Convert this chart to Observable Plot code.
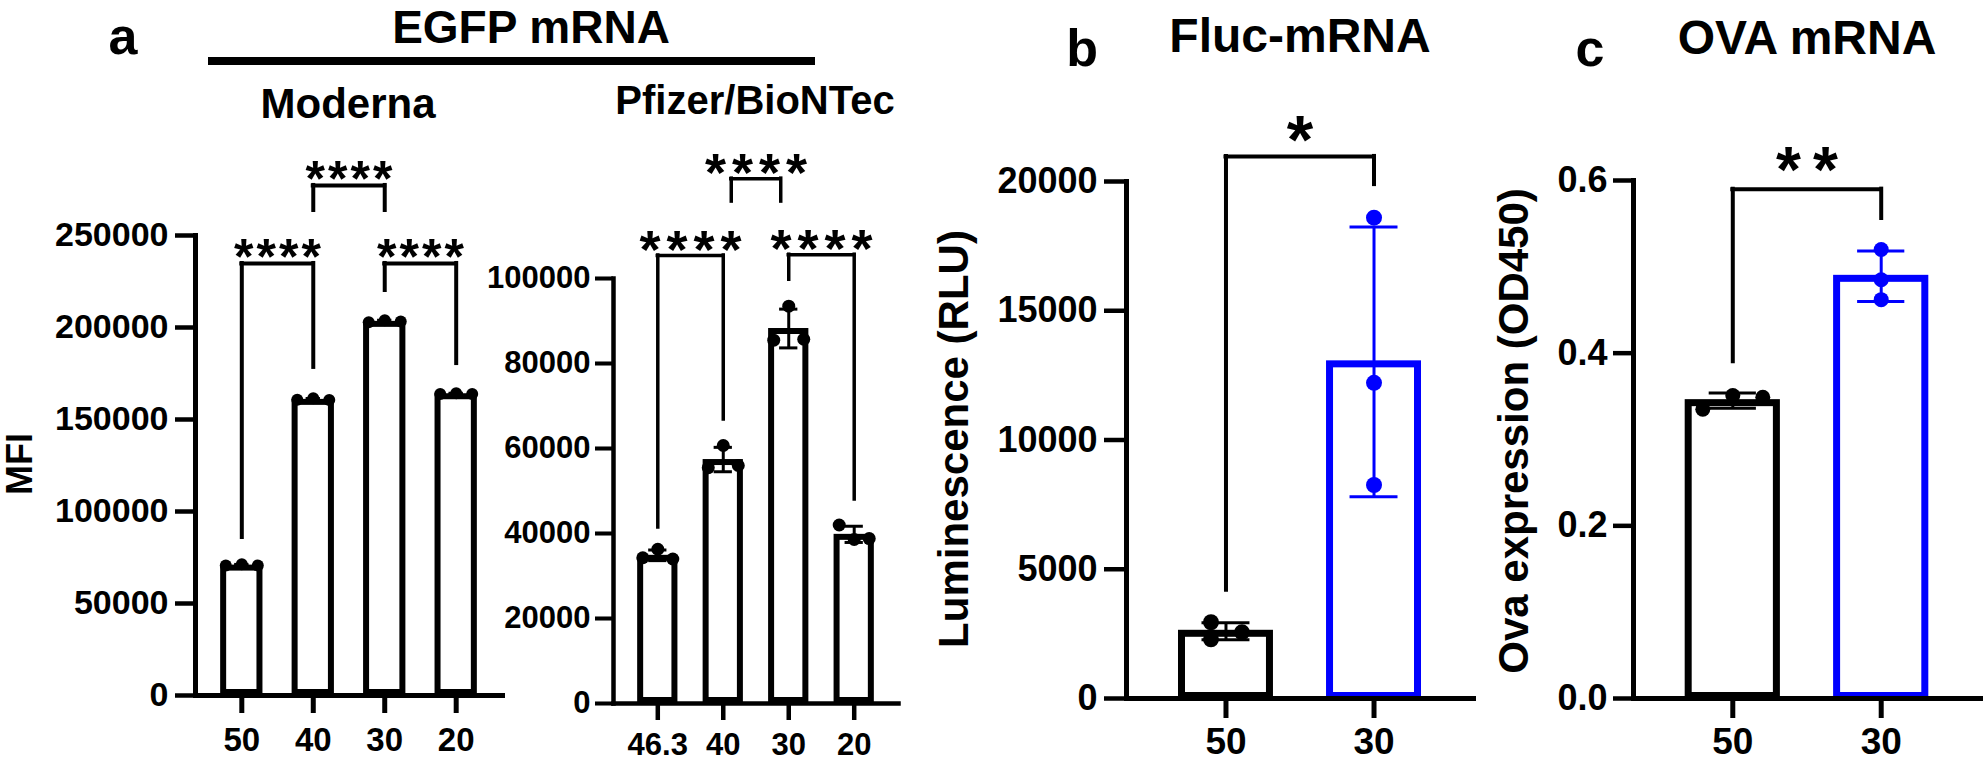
<!DOCTYPE html>
<html><head><meta charset="utf-8">
<script src="https://cdn.jsdelivr.net/npm/d3@7"></script>
<script src="https://cdn.jsdelivr.net/npm/@observablehq/plot@0.6"></script>
<style>
body{margin:0;background:#fff;}
#fig{position:relative;width:1985px;height:765px;overflow:hidden;background:#fff;}
#fig svg{position:absolute;left:0;top:0;}
.starsM text{letter-spacing:3px}
.starsP text{letter-spacing:6px}
.starsB text{letter-spacing:0px}
.starsC text{letter-spacing:12px}
</style></head><body><div id="fig"></div>
<script>
// ---------------- data ----------------
const modernaCats = ["50", "40", "30", "20"];
const modernaReps = [[70600, 71300, 70700], [160700, 161500, 160600], [202800, 204000, 203200], [163800, 164300, 163900]];
const modernaTicks = [0, 50000, 100000, 150000, 200000, 250000];
const modernaBrackets = [
  {from: "50", to: "40", top: 234800, yFrom: 85900, yTo: 178300, label: "****"},
  {from: "40", to: "30", top: 277200, yFrom: 263600, yTo: 263600, label: "****"},
  {from: "30", to: "20", top: 234800, yFrom: 220100, yTo: 180400, label: "****"}
];

const pfizerCats = ["46.3", "40", "30", "20"];
const pfizerReps = [[34300, 36300, 34000], [55500, 60700, 56000], [85500, 93500, 85700], [42000, 38600, 38800]];
const pfizerTicks = [0, 20000, 40000, 60000, 80000, 100000];
const pfizerBrackets = [
  {from: "46.3", to: "40", top: 105400, yFrom: 41400, yTo: 66800, label: "****"},
  {from: "40", to: "30", top: 123500, yFrom: 118100, yTo: 118100, label: "****"},
  {from: "30", to: "20", top: 105600, yFrom: 99700, yTo: 48000, label: "****"}
];

const flucCats = ["50", "30"];
const flucReps = [[2950, 2290, 2560], [18600, 12210, 8260]];
const flucTicks = [0, 5000, 10000, 15000, 20000];
const flucBrackets = [{from: "50", to: "30", top: 20970, yFrom: 4190, yTo: 19880, label: "*"}];

const ovaCats = ["50", "30"];
const ovaReps = [[0.335, 0.351, 0.349], [0.52, 0.485, 0.462]];
const ovaTicks = [0, 0.2, 0.4, 0.6];
const ovaBrackets = [{from: "50", to: "30", top: 0.59, yFrom: 0.39, yTo: 0.556, label: "**"}];

// ---------------- drawing ----------------
const W = 1985, H = 765;
const FONT = "'Liberation Sans', Arial, Helvetica, sans-serif";
const fig = document.getElementById("fig");
const BLACK = "#000000", BLUE = "#0000ff";

function panel(c) {
  const n = c.cats.length;
  const step = (c.right - c.left) / (n - c.pi + 2 * c.po);
  const bw = step * (1 - c.pi);
  const stats = c.cats.map((k, i) => ({cat: k, mean: d3.mean(c.reps[i]), sd: d3.deviation(c.reps[i])}));
  const pts = c.cats.flatMap((k, i) => c.reps[i].map((v, j) => ({cat: k, v, i, j})));
  const col = k => c.colors[c.cats.indexOf(k)];
  const marks = [
    Plot.barY(stats, {x: "cat", y: "mean", fill: "white", stroke: d => col(d.cat), strokeWidth: c.barStroke, inset: c.barInset}),
    Plot.ruleX(stats, {x: "cat", y1: d => d.mean - d.sd, y2: d => d.mean + d.sd, stroke: d => col(d.cat), strokeWidth: c.ebStroke}),
    Plot.tickY(stats, {x: "cat", y: d => d.mean + d.sd, stroke: d => col(d.cat), strokeWidth: c.ebStroke, inset: c.capInset}),
    Plot.tickY(stats, {x: "cat", y: d => d.mean - d.sd, stroke: d => col(d.cat), strokeWidth: c.ebStroke, inset: c.capInset}),
    ...pts.map(p => Plot.dot([p], {x: "cat", y: "v", r: c.r, fill: col(p.cat), dx: c.jitter(p)})),
    Plot.frame({anchor: "left", strokeWidth: c.axisStroke}),
    Plot.frame({anchor: "bottom", strokeWidth: c.axisStroke}),
    Plot.axisY(c.ticks, {tickSize: c.yTickSize, tickPadding: c.yTickPad, tickFormat: c.fmt, fontSize: c.yFont, strokeWidth: c.axisStroke * 0.9, label: null}),
    Plot.axisX({tickSize: c.xTickSize, tickPadding: c.xTickPad, fontSize: c.xFont, strokeWidth: c.axisStroke, label: null})
  ];
  c.brackets.forEach((b, k) => {
    const ins = (c.bracketInset && c.bracketInset[k]) || 0;
    const st = {strokeWidth: c.brStroke, strokeLinecap: "square"};
    marks.push(
      Plot.ruleX([b], {x: "from", y1: "yFrom", y2: "top", dx: ins, ...st}),
      Plot.ruleX([b], {x: "to", y1: "yTo", y2: "top", dx: -ins, ...st}),
      Plot.ruleY([b], {y: "top", x1: "from", x2: "to", insetLeft: bw / 2 + ins, insetRight: bw / 2 + ins, ...st}),
      Plot.text([b], {x: "from", y: "top", text: "label", fontSize: c.starFont, fontWeight: "bold",
        dx: step / 2 + c.starLS / 2, dy: c.starDy, className: c.starClass})
    );
  });
  const svg = Plot.plot({
    width: W, height: H,
    marginLeft: c.left, marginRight: W - c.right, marginTop: c.top, marginBottom: H - c.bottom,
    x: {domain: c.cats, paddingInner: c.pi, paddingOuter: c.po, align: 0.5, round: false},
    y: {domain: c.domain},
    style: {fontFamily: FONT, fontWeight: "bold", background: "transparent", overflow: "visible", color: "black"},
    marks
  });
  fig.appendChild(svg);
}

// a: Moderna
panel({cats: modernaCats, reps: modernaReps, ticks: modernaTicks, brackets: modernaBrackets,
  left: 195, right: 502, top: 235, bottom: 695, domain: [0, 250000], pi: 0.408, po: 0.352,
  colors: [BLACK, BLACK, BLACK, BLACK], barStroke: 6, barInset: 3, ebStroke: 3, capInset: 14, r: 6,
  jitter: p => [-16, 0, 16][p.j], fmt: d3.format("d"), yFont: 34, xFont: 33,
  yTickSize: 20, yTickPad: 7, xTickSize: 18, xTickPad: 14, axisStroke: 5, brStroke: 4,
  starFont: 50, starLS: 3, starDy: -5, starClass: "starsM"});

// a: Pfizer/BioNTec
panel({cats: pfizerCats, reps: pfizerReps, ticks: pfizerTicks, brackets: pfizerBrackets,
  left: 613, right: 898, top: 278, bottom: 703, domain: [0, 100000], pi: 0.385, po: 0.369,
  colors: [BLACK, BLACK, BLACK, BLACK], barStroke: 6, barInset: 3, ebStroke: 3, capInset: 11, r: 6.5,
  jitter: p => [-15, 0, 15][p.j], fmt: d3.format("d"), yFont: 31, xFont: 31,
  yTickSize: 18, yTickPad: 5, xTickSize: 17, xTickPad: 12, axisStroke: 4.5, brStroke: 3.5,
  bracketInset: [0, 8, 0],
  starFont: 54, starLS: 6, starDy: -5, starClass: "starsP"});

// b: Fluc-mRNA
panel({cats: flucCats, reps: flucReps, ticks: flucTicks, brackets: flucBrackets,
  left: 1126, right: 1473, top: 181, bottom: 698, domain: [0, 20000], pi: 0.372, po: 0.358,
  colors: [BLACK, BLUE], barStroke: 7, barInset: 2.5, ebStroke: 3, capInset: 22.5, r: 8,
  jitter: p => p.i === 0 ? [-15, -15, 16][p.j] : 0, fmt: d3.format("d"), yFont: 36, xFont: 37,
  yTickSize: 22, yTickPad: 7, xTickSize: 20, xTickPad: 9, axisStroke: 5, brStroke: 4,
  starFont: 68, starLS: 0, starDy: -15, starClass: "starsB"});

// c: OVA mRNA
panel({cats: ovaCats, reps: ovaReps, ticks: ovaTicks, brackets: ovaBrackets,
  left: 1633, right: 1980, top: 180, bottom: 698, domain: [0, 0.6], pi: 0.372, po: 0.355,
  colors: [BLACK, BLUE], barStroke: 7, barInset: 2.5, ebStroke: 3, capInset: 23, r: 7.5,
  jitter: p => p.i === 0 ? [-30, 0, 30][p.j] : 0, fmt: d3.format(".1f"), yFont: 36, xFont: 37,
  yTickSize: 20, yTickPad: 6, xTickSize: 20, xTickPad: 9, axisStroke: 5, brStroke: 4,
  starFont: 64, starLS: 12, starDy: -18, starClass: "starsC"});

// ---------------- titles & labels ----------------
const ann = d3.select(fig).append("svg").attr("width", W).attr("height", H)
  .style("font-family", FONT).style("font-weight", "bold").style("overflow", "visible");
function label(text, x, y, size, rotate) {
  const t = ann.append("text").attr("text-anchor", "middle").attr("font-size", size).text(text);
  t.attr("transform", `translate(${x},${y})` + (rotate ? " rotate(-90)" : ""));
  return t;
}
label("a", 123, 54, 52);
label("EGFP mRNA", 531, 43, 46);
ann.append("rect").attr("x", 208).attr("y", 57).attr("width", 607).attr("height", 8).attr("fill", "#000");
label("Moderna", 348, 118, 42);
label("Pfizer/BioNTec", 755, 114, 40);
label("b", 1082, 66, 52);
label("Fluc-mRNA", 1300, 52, 48);
label("c", 1590, 66, 52);
label("OVA mRNA", 1807, 54, 48);
label("MFI", 32, 464, 36, true);
label("Luminescence (RLU)", 968, 439, 42, true);
label("Ova expression (OD450)", 1528, 431, 42, true);
</script>
</body></html>
